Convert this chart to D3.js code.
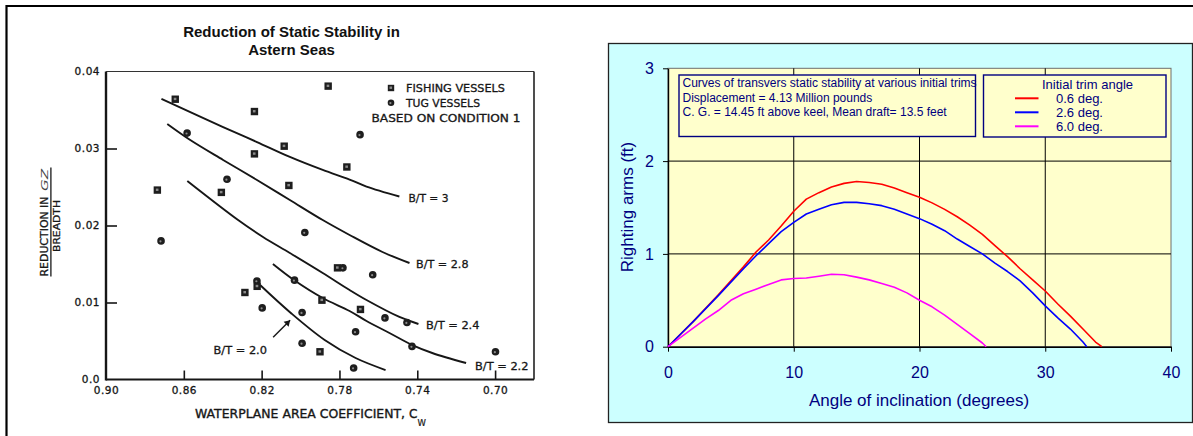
<!DOCTYPE html>
<html>
<head>
<meta charset="utf-8">
<script src="https://cdn.jsdelivr.net/npm/d3@7"></script>
<style>
  html, body { margin: 0; padding: 0; background: #fff; }
  svg { display: block; }
</style>
</head>
<body>
<svg id="chart" width="1193" height="436"></svg>
<script>
// ---------- Left chart: reduction of static stability in astern seas ----------
const cwTicks = [0.90, 0.86, 0.82, 0.78, 0.74, 0.70];
const cwTickLabels = ["0.90", "0.86", "0.82", "0.78", "0.74", "0.70"];
const gzTicks = [0, 0.01, 0.02, 0.03, 0.04];
const gzTickLabels = ["0.0", "0.01", "0.02", "0.03", "0.04"];

// Fishing vessels (squares)
const fishingCw = [0.8644, 0.7858, 0.8237, 0.8237, 0.8084, 0.7762, 0.8060, 0.8407, 0.8736, 0.7810, 0.7890, 0.7692, 0.7900, 0.8286, 0.8223];
const fishingGz = [0.0364, 0.0381, 0.0348, 0.0293, 0.0303, 0.0276, 0.0252, 0.0243, 0.0246, 0.0145, 0.0103, 0.0091, 0.0036, 0.0113, 0.0121];

// Tug vessels (circles)
const tugCw = [0.8583, 0.7694, 0.8378, 0.8717, 0.7978, 0.7782, 0.7629, 0.8031, 0.8224, 0.8197, 0.7992, 0.7992, 0.7566, 0.7717, 0.7453, 0.7427, 0.7727, 0.6998];
const tugGz = [0.0320, 0.0318, 0.0260, 0.0180, 0.0191, 0.0145, 0.0136, 0.0129, 0.0128, 0.0093, 0.0087, 0.0047, 0.0080, 0.0062, 0.0074, 0.0043, 0.0015, 0.0036];

// B/T fitted curves
const bt30Cw = [0.8715, 0.8398, 0.8224, 0.8055, 0.7886, 0.7748, 0.7661, 0.7492];
const bt30Gz = [0.03643, 0.03279, 0.03084, 0.02890, 0.02721, 0.02597, 0.02506, 0.02377];
const bt28Cw = [0.8685, 0.8567, 0.8398, 0.8224, 0.8055, 0.7886, 0.7748, 0.7579, 0.7440];
const bt28Gz = [0.03318, 0.03110, 0.02851, 0.02591, 0.02331, 0.02071, 0.01877, 0.01656, 0.01513];
const bt24Cw = [0.8582, 0.8321, 0.8193, 0.8055, 0.7886, 0.7748, 0.7661, 0.7492, 0.7394];
const bt24Gz = [0.02578, 0.02071, 0.01851, 0.01643, 0.01383, 0.01162, 0.01032, 0.00812, 0.00721];
const bt22Cw = [0.8142, 0.8034, 0.7886, 0.7748, 0.7661, 0.7543, 0.7425, 0.7323, 0.7149];
const bt22Gz = [0.01500, 0.01292, 0.01058, 0.00890, 0.00760, 0.00604, 0.00447, 0.00344, 0.00214];
const bt20Cw = [0.8208, 0.8050, 0.7876, 0.7717, 0.7563];
const bt20Gz = [0.01227, 0.00864, 0.00513, 0.00279, 0.00123];
const btLabels = ["B/T = 3", "B/T = 2.8", "B/T = 2.4", "B/T = 2.2", "B/T = 2.0"];

// ---------- Right chart: righting arm curves ----------
const angleTicks = [0, 10, 20, 30, 40];
const armTicks = [0, 1, 2, 3];
const trimLabels = ["0.6 deg.", "2.6 deg.", "6.0 deg."];
const trimColors = ["#ff0000", "#0000ff", "#ff00ff"];

const angle06 = [0, 2, 4, 6, 7, 8, 9, 10, 11, 12, 13, 14, 15, 16, 17, 18, 19, 20, 21, 22, 23, 24, 25, 26, 27, 28, 29, 30, 31, 32, 33, 34, 34.5];
const arm06 = [0, 0.27, 0.56, 0.86, 1.02, 1.15, 1.30, 1.46, 1.59, 1.66, 1.72, 1.76, 1.78, 1.77, 1.75, 1.71, 1.66, 1.61, 1.55, 1.48, 1.40, 1.31, 1.21, 1.09, 0.97, 0.84, 0.72, 0.60, 0.46, 0.33, 0.19, 0.05, 0];
const angle26 = [0, 2, 4, 6, 7, 8, 9, 10, 11, 12, 13, 14, 15, 16, 17, 18, 19, 20, 21, 22, 23, 24, 25, 26, 27, 28, 29, 30, 31, 32, 33, 33.3];
const arm26 = [0, 0.27, 0.55, 0.84, 0.98, 1.11, 1.24, 1.34, 1.43, 1.48, 1.53, 1.555, 1.555, 1.54, 1.52, 1.48, 1.43, 1.38, 1.32, 1.25, 1.16, 1.08, 1.00, 0.90, 0.81, 0.71, 0.58, 0.44, 0.31, 0.19, 0.05, 0];
const angle60 = [0, 1, 2, 3, 4, 5, 6, 7, 8, 9, 10, 11, 12, 13, 14, 15, 16, 17, 18, 19, 20, 21, 22, 23, 24, 25, 25.3];
const arm60 = [0, 0.10, 0.20, 0.30, 0.39, 0.50, 0.57, 0.62, 0.67, 0.72, 0.735, 0.74, 0.76, 0.78, 0.775, 0.75, 0.72, 0.68, 0.64, 0.58, 0.50, 0.43, 0.34, 0.24, 0.14, 0.04, 0];

const infoLines = [
  "Curves of transvers static stability at various initial trims",
  "Displacement = 4.13 Million pounds",
  "C. G. = 14.45 ft above keel,  Mean draft= 13.5 feet"
];

const svg = d3.select("#chart");

// ================= LEFT CHART =================
const scanInk = "#161616";
const scanFont = "'DejaVu Sans', sans-serif";

// printed text on the scanned figure is heavy, so it gets a thin outline
function inked(sel, w) {
  return sel.attr("fill", scanInk).attr("stroke", scanInk).attr("stroke-width", w === undefined ? 0.35 : w);
}

// outer frame
svg.append("line").attr("x1", 6).attr("x2", 1193).attr("y1", 6).attr("y2", 6)
  .attr("stroke", "#000").attr("stroke-width", 2.2);
svg.append("line").attr("x1", 6.5).attr("x2", 6.5).attr("y1", 5).attr("y2", 436)
  .attr("stroke", "#000").attr("stroke-width", 2.2);

const L = svg.append("g");
const xL = d3.scaleLinear().domain([0.90, 0.68]).range([106, 534]);
const yL = d3.scaleLinear().domain([0, 0.04]).range([379.5, 71.5]);

// title
L.append("text").attr("x", 291.5).attr("y", 36.5).attr("text-anchor", "middle")
  .attr("font-family", "'Liberation Sans', Arial, sans-serif").attr("font-weight", "bold")
  .attr("font-size", 15).attr("fill", "#111").text("Reduction of Static Stability in");
L.append("text").attr("x", 291.5).attr("y", 54.5).attr("text-anchor", "middle")
  .attr("font-family", "'Liberation Sans', Arial, sans-serif").attr("font-weight", "bold")
  .attr("font-size", 15).attr("fill", "#111").text("Astern Seas");

// axes with inward ticks
const xAxisL = d3.axisBottom(xL).tickValues(cwTicks)
  .tickFormat((d, i) => cwTickLabels[i]).tickSizeInner(-9).tickSizeOuter(0).tickPadding(7.5);
const yAxisL = d3.axisLeft(yL).tickValues(gzTicks)
  .tickFormat((d, i) => gzTickLabels[i]).tickSizeInner(-11).tickSizeOuter(0).tickPadding(6);

const gxL = L.append("g").attr("transform", `translate(0,${yL(0)})`).call(xAxisL);
const gyL = L.append("g").attr("transform", `translate(${xL(0.90)},0)`).call(yAxisL);
[gxL, gyL].forEach(g => {
  g.select(".domain").remove();
  g.selectAll(".tick line").attr("stroke", scanInk).attr("stroke-width", 1.6);
  inked(g.selectAll(".tick text").attr("font-family", scanFont).attr("font-size", 10.5)
    .attr("letter-spacing", 0.5), 0.3);
});
gyL.selectAll(".tick line").filter(d => d === 0 || d === 0.04).remove();
gxL.selectAll(".tick line").filter(d => d === 0.90).remove();

// plot frame
L.append("line").attr("x1", xL(0.90)).attr("x2", xL(0.90)).attr("y1", yL(0.04)).attr("y2", yL(0) + 1)
  .attr("stroke", scanInk).attr("stroke-width", 2.4);
L.append("line").attr("x1", xL(0.90)).attr("x2", xL(0.68)).attr("y1", yL(0)).attr("y2", yL(0))
  .attr("stroke", scanInk).attr("stroke-width", 2.2);
L.append("line").attr("x1", xL(0.90)).attr("x2", xL(0.68)).attr("y1", yL(0.04)).attr("y2", yL(0.04))
  .attr("stroke", "#333").attr("stroke-width", 1.2);
L.append("line").attr("x1", xL(0.68)).attr("x2", xL(0.68)).attr("y1", yL(0.04)).attr("y2", yL(0))
  .attr("stroke", "#222").attr("stroke-width", 1.6);

// axis titles
inked(L.append("text").attr("x", 195).attr("y", 418).attr("font-family", scanFont).attr("font-size", 12)
  .attr("textLength", 210).attr("lengthAdjust", "spacingAndGlyphs")
  .text("WATERPLANE AREA COEFFICIENT,"));
inked(L.append("text").attr("x", 409).attr("y", 418).attr("font-family", scanFont).attr("font-size", 12).text("C"));
inked(L.append("text").attr("x", 417.5).attr("y", 426).attr("font-family", scanFont).attr("font-size", 8.5).text("W"), 0.2);

const yTitle = L.append("g").attr("transform", "translate(50,222) rotate(-90)");
inked(yTitle.append("text").attr("x", -54.5).attr("y", -1.8).attr("font-family", scanFont).attr("font-size", 10)
  .attr("textLength", 80).attr("lengthAdjust", "spacingAndGlyphs").text("REDUCTION IN"), 0.3);
yTitle.append("text").attr("x", 31).attr("y", -1.8).attr("font-family", scanFont).attr("font-size", 8)
  .attr("font-style", "italic").attr("fill", "#444").attr("textLength", 22).attr("lengthAdjust", "spacingAndGlyphs").text("GZ");
yTitle.append("line").attr("x1", -54.5).attr("x2", 54.5).attr("y1", 0.9).attr("y2", 0.9)
  .attr("stroke", scanInk).attr("stroke-width", 1.3);
inked(yTitle.append("text").attr("x", -30).attr("y", 9.6).attr("font-family", scanFont).attr("font-size", 9.5)
  .attr("textLength", 52).attr("lengthAdjust", "spacingAndGlyphs").text("BREADTH"), 0.3);

// B/T curves
const btCurves = [[bt30Cw, bt30Gz], [bt28Cw, bt28Gz], [bt24Cw, bt24Gz], [bt22Cw, bt22Gz], [bt20Cw, bt20Gz]];
const lineL = d3.line().x(d => xL(d[0])).y(d => yL(d[1])).curve(d3.curveCatmullRom.alpha(0.5));
btCurves.forEach(([cw, gz]) => {
  L.append("path").datum(cw.map((c, i) => [c, gz[i]])).attr("d", lineL)
    .attr("fill", "none").attr("stroke", scanInk).attr("stroke-width", 1.9);
});

// curve labels, placed after the end of each curve (B/T = 2.0 sits below with an arrow)
const labelAt = [
  { x: 408.5, y: 201.5, w: 40 },
  { x: 416, y: 267.5, w: 52.5 },
  { x: 426, y: 329, w: 53.5 },
  { x: 475, y: 370, w: 53.5 },
  { x: 213.5, y: 354, w: 53.5 }
];
btLabels.forEach((t, i) => {
  inked(L.append("text").attr("x", labelAt[i].x).attr("y", labelAt[i].y).attr("font-family", scanFont)
    .attr("font-size", 11).attr("textLength", labelAt[i].w)
    .attr("lengthAdjust", "spacingAndGlyphs").text(t), 0.3);
});
// arrow pointing at the B/T = 2.0 curve
const arrowTip = [xL(0.8051) - 0.5, yL(0.0077)];
L.append("line").attr("x1", arrowTip[0] - 17).attr("y1", arrowTip[1] + 17)
  .attr("x2", arrowTip[0]).attr("y2", arrowTip[1]).attr("stroke", scanInk).attr("stroke-width", 1.4);
L.append("path").attr("d", `M${arrowTip[0]},${arrowTip[1]} l-6.5,1.5 l5,5 z`).attr("fill", scanInk);

// data markers
function drawSquare(g, cx, cy, s) {
  g.append("rect").attr("x", cx - s / 2).attr("y", cy - s / 2).attr("width", s).attr("height", s)
    .attr("fill", "#1e1e1e");
  g.append("rect").attr("x", cx - 1.5).attr("y", cy - 1.5).attr("width", 2.6).attr("height", 2.4)
    .attr("fill", "#8a8a8a");
}
function drawCircle(g, cx, cy, r) {
  g.append("circle").attr("cx", cx).attr("cy", cy).attr("r", r).attr("fill", "#1e1e1e");
  g.append("circle").attr("cx", cx - 0.6).attr("cy", cy + 0.4).attr("r", 1.1).attr("fill", "#8a8a8a");
}
const marks = L.append("g");
tugCw.forEach((c, i) => drawCircle(marks, xL(c), yL(tugGz[i]), 3.8));
fishingCw.forEach((c, i) => drawSquare(marks, xL(c), yL(fishingGz[i]), 7.4));

// legend
drawSquare(L, 391, 88, 6.4);
drawCircle(L, 391, 102.7, 3.3);
inked(L.append("text").attr("x", 406).attr("y", 91.8).attr("font-family", scanFont).attr("font-size", 11)
  .attr("textLength", 99).attr("lengthAdjust", "spacingAndGlyphs").text("FISHING VESSELS"), 0.3);
inked(L.append("text").attr("x", 406).attr("y", 106.7).attr("font-family", scanFont).attr("font-size", 11)
  .attr("textLength", 74).attr("lengthAdjust", "spacingAndGlyphs").text("TUG VESSELS"), 0.3);
inked(L.append("text").attr("x", 371.5).attr("y", 121.7).attr("font-family", scanFont).attr("font-size", 11)
  .attr("textLength", 149).attr("lengthAdjust", "spacingAndGlyphs").text("BASED ON CONDITION 1"), 0.3);

// ================= RIGHT CHART =================
const navy = "#000080";
const arial = "'Liberation Sans', Arial, sans-serif";
const R = svg.append("g");

R.append("rect").attr("x", 608.5).attr("y", 43.5).attr("width", 584).attr("height", 379)
  .attr("fill", "#ccffff").attr("stroke", "#222").attr("stroke-width", 1.3);

const xR = d3.scaleLinear().domain([0, 40]).range([668, 1171]);
const yR = d3.scaleLinear().domain([0, 3]).range([346.7, 68.3]);

R.append("rect").attr("x", xR(0)).attr("y", yR(3)).attr("width", xR(40) - xR(0)).attr("height", yR(0) - yR(3))
  .attr("fill", "#ffffcc").attr("stroke", "#6e6e6e").attr("stroke-width", 1);

// gridlines
R.append("g").selectAll("line").data(angleTicks.filter(d => d > 0 && d < 40)).join("line")
  .attr("x1", d => xR(d)).attr("x2", d => xR(d)).attr("y1", yR(3)).attr("y2", yR(0))
  .attr("stroke", "#000").attr("stroke-width", 1);
R.append("g").selectAll("line").data(armTicks.filter(d => d > 0 && d < 3)).join("line")
  .attr("x1", xR(0)).attr("x2", xR(40)).attr("y1", d => yR(d)).attr("y2", d => yR(d))
  .attr("stroke", "#000").attr("stroke-width", 1);

// axes
const gxR = R.append("g").attr("transform", `translate(0,${yR(0)})`)
  .call(d3.axisBottom(xR).tickValues(angleTicks).tickFormat(d3.format("d"))
    .tickSizeInner(5).tickSizeOuter(0).tickPadding(15));
const gyR = R.append("g").attr("transform", `translate(${xR(0)},0)`)
  .call(d3.axisLeft(yR).tickValues(armTicks).tickFormat(d3.format("d"))
    .tickSizeInner(5).tickSizeOuter(0).tickPadding(9));
[gxR, gyR].forEach(g => {
  g.select(".domain").attr("stroke", "#000").attr("stroke-width", 1.4);
  g.selectAll(".tick line").attr("stroke", "#000");
  g.selectAll(".tick text").attr("font-family", arial).attr("font-size", 16).attr("fill", navy);
});

// axis titles
R.append("text").attr("x", 919).attr("y", 406).attr("text-anchor", "middle")
  .attr("font-family", arial).attr("font-size", 17).attr("fill", navy).text("Angle of inclination (degrees)");
R.append("text").attr("transform", "translate(632.5,207) rotate(-90)").attr("text-anchor", "middle")
  .attr("font-family", arial).attr("font-size", 17).attr("fill", navy).text("Righting arms (ft)");

// curves
const series = [[angle06, arm06], [angle26, arm26], [angle60, arm60]];
const lineR = d3.line().x(d => xR(d[0])).y(d => yR(d[1]));
series.forEach(([a, v], i) => {
  R.append("path").datum(a.map((d, j) => [d, v[j]])).attr("d", lineR)
    .attr("fill", "none").attr("stroke", trimColors[i]).attr("stroke-width", 1.6)
    .attr("stroke-linejoin", "round");
});

// information box
R.append("rect").attr("x", 679).attr("y", 75).attr("width", 296.5).attr("height", 61.5)
  .attr("fill", "#ffffcc").attr("stroke", navy).attr("stroke-width", 1.4);
infoLines.forEach((t, i) => {
  R.append("text").attr("x", 682.5).attr("y", [87.3, 101.5, 115.8][i]).attr("font-family", arial)
    .attr("font-size", 12).attr("fill", navy).text(t);
});

// legend
R.append("rect").attr("x", 983.5).attr("y", 75).attr("width", 182.5).attr("height", 62)
  .attr("fill", "#ffffcc").attr("stroke", navy).attr("stroke-width", 1.4);
R.append("text").attr("x", 1087.5).attr("y", 89.3).attr("text-anchor", "middle")
  .attr("font-family", arial).attr("font-size", 13).attr("fill", navy).text("Initial trim angle");
trimLabels.forEach((t, i) => {
  const y = 98.3 + i * 14;
  R.append("line").attr("x1", 1015).attr("x2", 1038.5).attr("y1", y).attr("y2", y)
    .attr("stroke", trimColors[i]).attr("stroke-width", 2);
  R.append("text").attr("x", 1056).attr("y", y + 5).attr("font-family", arial)
    .attr("font-size", 13).attr("fill", navy).text(t);
});
</script>
</body>
</html>
